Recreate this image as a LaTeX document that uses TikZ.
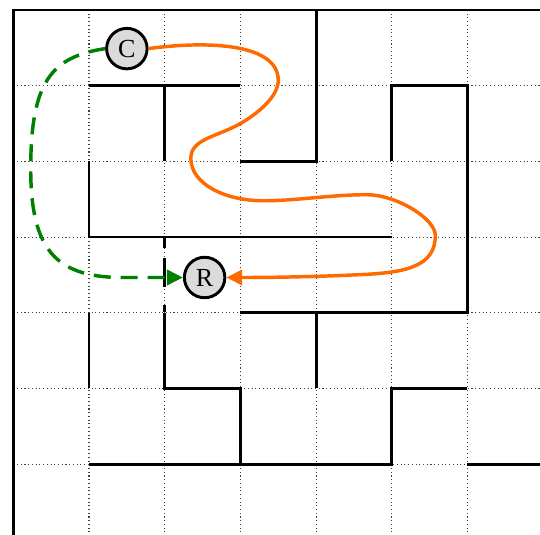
\documentclass[tikz,border=0pt]{standalone}
\usepackage{fontspec}
\setmainfont{Liberation Serif}
\usetikzlibrary{arrows.meta}
\definecolor{pathorange}{RGB}{255,106,0}
\definecolor{pathgreen}{RGB}{0,128,0}
\tikzset{
  gridline/.style={black!75, line width=0.4pt, densely dotted},
  wall/.style={black, line width=1.05pt},
  door/.style={wall, dash pattern=on 4.1pt off 3.75pt on 10.9pt off 6.75pt on 2.6pt},
  cell/.style={circle, draw=black, line width=1.1pt, fill=black!14,
    minimum size=0.535cm, inner sep=0pt, font=\fontsize{9.8}{11}\selectfont},
  route/.style={line width=1.3pt, -{Triangle[length=0.21cm,width=0.2cm]}},
}
\begin{document}
\begin{tikzpicture}
\useasboundingbox (-0.176,0.066) rectangle (6.958,7.132);
\clip (-0.176,0.066) rectangle (6.958,7.132);

% dotted cell grid
\draw[gridline] (0,0) grid (7,7);

% outer border
\draw[wall] (7,7) -- (0,7) -- (0,0);

% inner walls
\draw[wall] (1,6) -- (3,6);
\draw[wall] (2,6) -- (2,5);
\draw[wall] (4,7) -- (4,5) -- (3,5);
\draw[wall] (5,5) -- (5,6) -- (6,6) -- (6,3) -- (3,3);
\draw[wall] (4,3) -- (4,2);
\draw[wall] (1,5) -- (1,4) -- (5,4);
\draw[door] (2,4) -- (2,3);
\draw[wall] (2,3) -- (2,2) -- (3,2) -- (3,1);
\draw[wall] (1,3) -- (1,2);
\draw[wall] (1,1) -- (5,1) -- (5,2) -- (6,2);
\draw[wall] (6,1) -- (7,1);

% start and goal cells
\node[cell] (C) at (1.5,6.49) {C};
\node[cell] (R) at (2.527,3.466) {R};

% long route through the corridors
\draw[route, pathorange] (C.east)
  .. controls (2.6,6.6) and (3.5,6.55) .. (3.5,6.07)
  .. controls (3.5,5.85) and (3.217,5.625) .. (3.0,5.5)
  .. controls (2.695,5.325) and (2.345,5.3) .. (2.345,5.04)
  .. controls (2.345,4.7) and (2.8,4.48) .. (3.3,4.48)
  .. controls (3.75,4.48) and (4.2,4.56) .. (4.67,4.56)
  .. controls (5.05,4.56) and (5.575,4.25) .. (5.575,4.02)
  .. controls (5.575,3.62) and (5.2,3.53) .. (4.6,3.505)
  .. controls (4.0,3.475) and (3.4,3.466) .. (R.east);

% short route through the door
\draw[route, pathgreen, dash pattern=on 6.4pt off 3.75pt] (C.west)
  .. controls (0.5,6.38) and (0.23,6.05) .. (0.23,4.9)
  .. controls (0.23,3.85) and (0.55,3.48) .. (1.4,3.466)
  -- (R.west);
\end{tikzpicture}
\end{document}
